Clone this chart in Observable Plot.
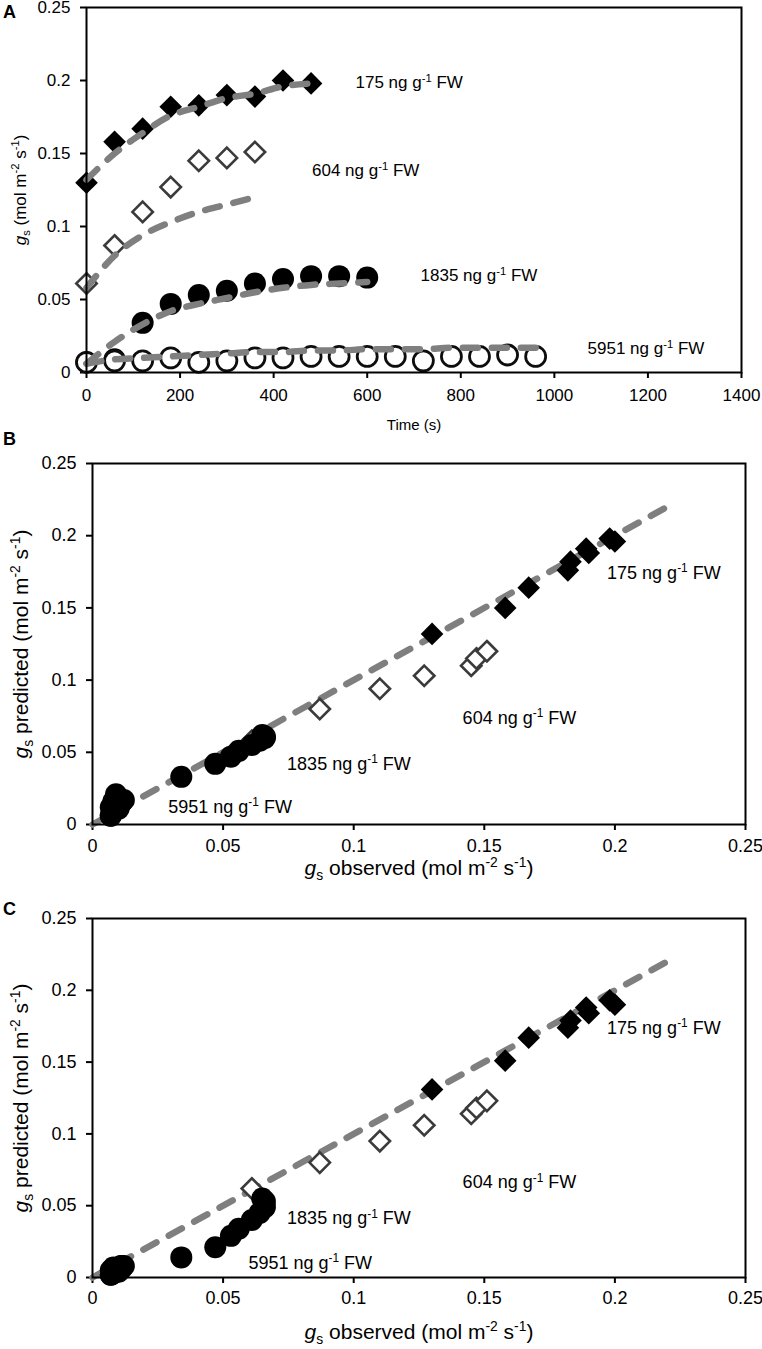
<!DOCTYPE html>
<html><head><meta charset="utf-8">
<script src="https://cdn.jsdelivr.net/npm/d3@7"></script>
<script src="https://cdn.jsdelivr.net/npm/@observablehq/plot@0.6"></script>
<style>
body{margin:0;background:#fff;font-family:"Liberation Sans",Arial,sans-serif;}
#wrap{position:relative;width:762px;height:1349px;overflow:hidden;}
.panel{position:absolute;left:0;}
.plab{position:absolute;left:3px;font-weight:bold;font-size:18px;line-height:18px;}
</style></head><body><div id="wrap"></div>
<script>
// ---------- data ----------
const t175  = [0,60,120,180,240,300,360,420,480];
const obs175 = [0.130,0.158,0.167,0.182,0.183,0.190,0.189,0.200,0.198];
const fit175 = [0.132,0.150,0.164,0.176,0.182,0.188,0.191,0.196,0.198];
const predC175 = [0.131,0.151,0.167,0.174,0.179,0.184,0.188,0.190,0.193];

const t604  = [0,60,120,180,240,300,360];
const obs604 = [0.061,0.087,0.110,0.127,0.145,0.147,0.151];
const fit604 = [0.058,0.080,0.094,0.103,0.110,0.115,0.120];
const predC604 = [0.062,0.080,0.095,0.106,0.114,0.118,0.123];

const t1835 = [0,60,120,180,240,300,360,420,480,540,600];
const obs1835 = [0.007,0.009,0.034,0.047,0.053,0.056,0.061,0.064,0.066,0.066,0.065];
const fit1835 = [0.006,0.021,0.033,0.042,0.047,0.051,0.055,0.058,0.060,0.061,0.062];
const predC1835 = [0.002,0.006,0.014,0.021,0.029,0.034,0.040,0.045,0.049,0.053,0.055];

const t5951 = [0,60,120,180,240,300,360,420,480,540,600,660,720,780,840,900,960];
const obs5951 = [0.007,0.008,0.008,0.010,0.007,0.008,0.010,0.010,0.011,0.011,0.011,0.011,0.008,0.011,0.011,0.012,0.011];
const fit5951 = [0.006,0.009,0.010,0.011,0.012,0.013,0.014,0.014,0.015,0.015,0.016,0.016,0.016,0.017,0.017,0.017,0.017];
const predC5951 = [0.002,0.003,0.004,0.004,0.005,0.005,0.006,0.006,0.006,0.007,0.007,0.007,0.007,0.007,0.008,0.008,0.008];

const oneToOne = [0, 0.22];

const gsTicks = [0,0.05,0.1,0.15,0.2,0.25];
const timeTicks = [0,200,400,600,800,1000,1200,1400];

const seriesNames = ["175 ng g{sup:-1} FW","604 ng g{sup:-1} FW","1835 ng g{sup:-1} FW","5951 ng g{sup:-1} FW"];
// annotation anchors (data units): panel A (time, gs), panels B/C (observed, predicted)
const labA = [[575,0.1986],[482,0.138],[714,0.0664],[1071,0.0162]];
const labB = [[0.197,0.174],[0.1417,0.0736],[0.0745,0.0417],[0.029,0.012]];
const labC = [[0.197,0.1736],[0.1417,0.066],[0.0745,0.041],[0.0597,0.0098]];

const titleA_y = "{i:g}{sub:s} (mol m{sup:-2} s{sup:-1})";
const titleA_x = "Time (s)";
const titleBC_y = "{i:g}{sub:s} predicted (mol m{sup:-2} s{sup:-1})";
const titleBC_x = "{i:g}{sub:s} observed (mol m{sup:-2} s{sup:-1})";

// ---------- helpers ----------
const zip = (xs, ys) => xs.map((x, i) => ({x, y: ys[i]}));
const labs = (pos) => pos.map((p, i) => ({x: p[0], y: p[1], s: seriesNames[i]}));
const fmt = d => String(d);
const GRAY = "#7f7f7f";
const dash = {stroke: GRAY, strokeWidth: 6.5, strokeDasharray: "15,14", strokeLinecap: "round"};
const filledDia = {symbol: "diamond2", r: 10.2, fill: "black"};
const openDia = {symbol: "diamond2", r: 9.2, fill: "white", stroke: "#3a3a3a", strokeWidth: 2.6};
const filledCirc = {r: 11, fill: "black"};
const openCirc = {r: 10, fill: "white", stroke: "#111", strokeWidth: 2.8};

function richify(root) {
  root.querySelectorAll("text").forEach(t => {
    const s = t.textContent;
    if (!s.includes("{")) return;
    const fs = parseFloat(getComputedStyle(t).fontSize);
    while (t.firstChild) t.removeChild(t.firstChild);
    let shift = 0;
    const re = /\{(i|sub|sup):([^}]*)\}/g;
    let last = 0, m;
    const add = (txt, kind) => {
      const ts = document.createElementNS("http://www.w3.org/2000/svg", "tspan");
      let target = 0, size = fs;
      if (kind === "sup") { target = -0.38 * fs; size = 0.66 * fs; }
      if (kind === "sub") { target = 0.25 * fs; size = 0.66 * fs; }
      if (kind === "i") ts.setAttribute("font-style", "italic");
      ts.setAttribute("font-size", size);
      const dy = target - shift;
      if (dy) ts.setAttribute("dy", dy.toFixed(2));
      shift = target;
      ts.textContent = txt;
      t.appendChild(ts);
    };
    while ((m = re.exec(s))) {
      if (m.index > last) add(s.slice(last, m.index), "n");
      add(m[2], m[1]);
      last = re.lastIndex;
    }
    if (last < s.length) add(s.slice(last), "n");
  });
}

function soften(svg) {
  const ns = "http://www.w3.org/2000/svg";
  const defs = document.createElementNS(ns, "defs");
  const f = document.createElementNS(ns, "filter");
  f.setAttribute("id", "soft" + Math.random().toString(36).slice(2));
  f.setAttribute("x", "-20%"); f.setAttribute("y", "-20%");
  f.setAttribute("width", "140%"); f.setAttribute("height", "140%");
  const b = document.createElementNS(ns, "feGaussianBlur");
  b.setAttribute("stdDeviation", "0.7");
  f.appendChild(b); defs.appendChild(f); svg.insertBefore(defs, svg.firstChild);
  svg.querySelectorAll('g[aria-label="dot"]').forEach(g => g.setAttribute("filter", `url(#${f.getAttribute("id")})`));
}

const wrap = document.getElementById("wrap");
function place(svg, top) {
  const d = document.createElement("div");
  d.className = "panel"; d.style.top = top + "px";
  d.appendChild(svg); wrap.appendChild(d);
  richify(svg); soften(svg);
}
function letter(ch, top) {
  const d = document.createElement("div");
  d.className = "plab"; d.style.top = top + "px"; d.textContent = ch;
  wrap.appendChild(d);
}

// ---------- Panel A ----------
const plotA = Plot.plot({
  width: 762, height: 450,
  marginLeft: 86, marginRight: 21, marginTop: 7, marginBottom: 78,
  style: {fontFamily: "'Liberation Sans', Arial, sans-serif", fontSize: "17px", color: "black", background: "white", overflow: "visible"},
  x: {domain: [0, 1400]},
  y: {domain: [0, 0.25]},
  marks: [
    Plot.axisX({ticks: timeTicks, tickFormat: fmt, tickSize: 6, tickPadding: 10, strokeWidth: 2, label: null}),
    Plot.axisY({ticks: gsTicks, tickFormat: fmt, tickSize: 6, tickPadding: 10, strokeWidth: 2, label: null}),
    Plot.dot(zip(t1835, obs1835), {x: "x", y: "y", ...filledCirc}),
    Plot.dot(zip(t5951, obs5951), {x: "x", y: "y", ...openCirc}),
    Plot.dot(zip(t604, obs604), {x: "x", y: "y", ...openDia}),
    Plot.dot(zip(t175, obs175), {x: "x", y: "y", ...filledDia}),
    Plot.line(zip(t175, fit175), {x: "x", y: "y", curve: "monotone-x", ...dash}),
    Plot.line(zip(t604, fit604), {x: "x", y: "y", curve: "monotone-x", ...dash}),
    Plot.line(zip(t1835, fit1835), {x: "x", y: "y", curve: "monotone-x", ...dash}),
    Plot.line(zip(t5951, fit5951), {x: "x", y: "y", curve: "monotone-x", ...dash}),
    Plot.frame({stroke: "black", strokeWidth: 2}),
    Plot.text(labs(labA), {x: "x", y: "y", text: "s", textAnchor: "start", fontSize: 17, fill: "black"}),
    Plot.text([titleA_x], {frameAnchor: "bottom", dy: 53, textAnchor: "middle", lineAnchor: "middle", fontSize: 15, fill: "black"}),
    Plot.text([titleA_y], {frameAnchor: "left", dx: -66, rotate: -90, textAnchor: "middle", lineAnchor: "middle", fontSize: 17, fill: "black"})
  ]
});
place(plotA, 0);
letter("A", 3);

function panelBC(pred175, pred604, pred1835, pred5951, labPos, mt, mb, h, padX, titleDy) {
  return Plot.plot({
    width: 762, height: h,
    marginLeft: 92, marginRight: 17, marginTop: mt, marginBottom: mb,
    style: {fontFamily: "'Liberation Sans', Arial, sans-serif", fontSize: "18px", color: "black", background: "white", overflow: "visible"},
    x: {domain: [0, 0.25]},
    y: {domain: [0, 0.25]},
    marks: [
      Plot.axisX({ticks: gsTicks, tickFormat: fmt, tickSize: 6, tickPadding: padX, strokeWidth: 2, label: null}),
      Plot.axisY({ticks: gsTicks, tickFormat: fmt, tickSize: 6, tickPadding: 10, strokeWidth: 2, label: null}),
      Plot.line(zip(oneToOne, oneToOne), {x: "x", y: "y", ...dash}),
      Plot.dot(zip(obs175, pred175), {x: "x", y: "y", ...filledDia}),
      Plot.dot(zip(obs604, pred604), {x: "x", y: "y", ...openDia}),
      Plot.dot(zip(obs1835, pred1835), {x: "x", y: "y", ...filledCirc}),
      Plot.dot(zip(obs5951, pred5951), {x: "x", y: "y", ...filledCirc}),
      Plot.frame({stroke: "black", strokeWidth: 2}),
      Plot.text(labs(labPos), {x: "x", y: "y", text: "s", textAnchor: "start", fontSize: 18, fill: "black"}),
      Plot.text([titleBC_x], {frameAnchor: "bottom", dy: titleDy, textAnchor: "middle", lineAnchor: "middle", fontSize: 21, fill: "black"}),
      Plot.text([titleBC_y], {frameAnchor: "left", dx: -71, rotate: -90, textAnchor: "middle", lineAnchor: "middle", fontSize: 21, fill: "black"})
    ]
  });
}

const plotB = panelBC(fit175, fit604, fit1835, fit5951, labB, 13, 76, 450, 9, 44);
place(plotB, 450);
letter("B", 430);

const plotC = panelBC(predC175, predC604, predC1835, predC5951, labC, 18, 72, 449, 8, 55);
place(plotC, 900);
letter("C", 900);
</script></body></html>
